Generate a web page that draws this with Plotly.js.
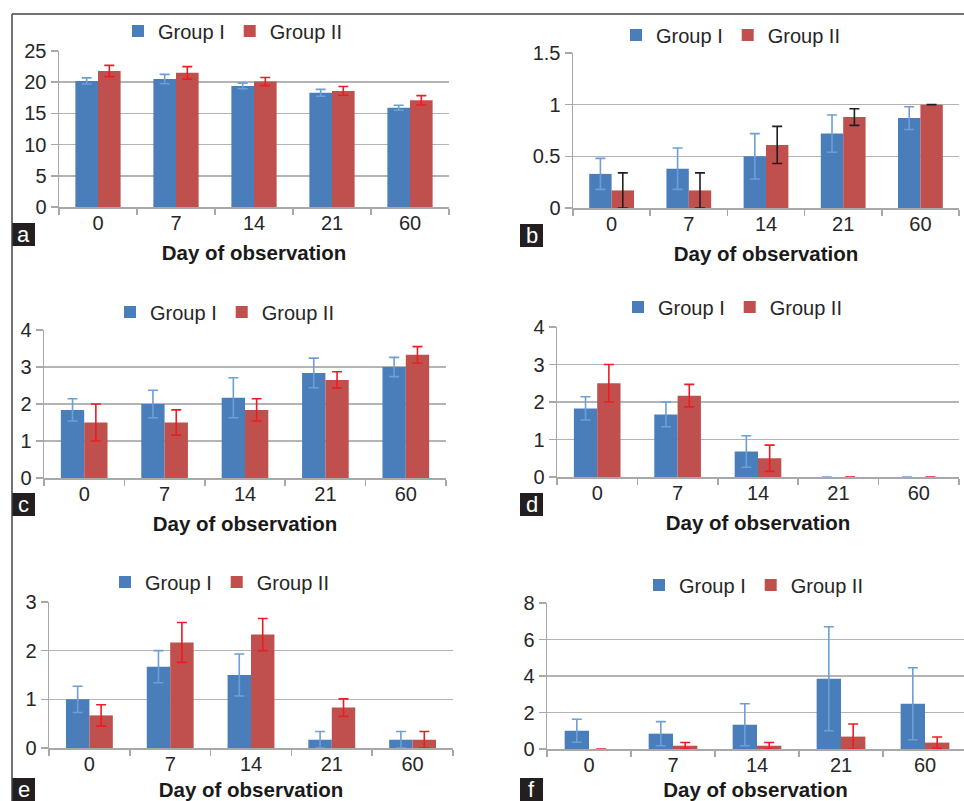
<!DOCTYPE html>
<html>
<head>
<meta charset="utf-8">
<script src="https://cdn.plot.ly/plotly-3.0.1.min.js"></script>
<style>html,body{margin:0;padding:0;background:#fff;}#chart{width:964px;height:801px;}</style>
</head>
<body>
<div id="chart"></div>
<script>
// ---- data ----
const days = ["0", "7", "14", "21", "60"];
const seriesNames = ["Group I", "Group II"];
const panelLabels = ["a", "b", "c", "d", "e", "f"];
const axisTitle = "Day of observation";

const aG1 = [20.2, 20.5, 19.4, 18.3, 15.9];
const aG1err = [0.5, 0.75, 0.45, 0.55, 0.4];
const aG2 = [21.8, 21.5, 20.1, 18.6, 17.1];
const aG2err = [0.9, 1.0, 0.65, 0.7, 0.75];

const bG1 = [0.33, 0.38, 0.5, 0.72, 0.87];
const bG1err = [0.15, 0.2, 0.22, 0.18, 0.11];
const bG2 = [0.17, 0.17, 0.61, 0.88, 1.0];
const bG2err = [0.17, 0.17, 0.18, 0.08, 0];

const cG1 = [1.84, 2.0, 2.17, 2.84, 3.0];
const cG1err = [0.3, 0.37, 0.54, 0.4, 0.26];
const cG2 = [1.5, 1.5, 1.84, 2.65, 3.33];
const cG2err = [0.5, 0.34, 0.3, 0.22, 0.22];

const dG1 = [1.83, 1.67, 0.68, 0, 0];
const dG1err = [0.31, 0.33, 0.42, 0, 0];
const dG2 = [2.5, 2.17, 0.5, 0, 0];
const dG2err = [0.5, 0.3, 0.35, 0, 0];

const eG1 = [1.0, 1.67, 1.5, 0.17, 0.17];
const eG1err = [0.27, 0.33, 0.43, 0.17, 0.17];
const eG2 = [0.67, 2.17, 2.33, 0.83, 0.17];
const eG2err = [0.22, 0.41, 0.33, 0.18, 0.17];

const fG1 = [1.0, 0.84, 1.33, 3.85, 2.48];
const fG1err = [0.63, 0.66, 1.15, 2.85, 1.97];
const fG2 = [0, 0.18, 0.18, 0.68, 0.35];
const fG2err = [0, 0.18, 0.18, 0.69, 0.31];

const yMax = [25, 1.5, 4, 4, 3, 8];
const yStep = [5, 0.5, 1, 1, 1, 2];

// ---- layout helpers ----
const W = 964, H = 801;
const px = x => x / W;
const py = y => 1 - y / H;

const BLUE = "#4a7ebb", RED = "#c0504d";
const BLUE_ERR = "#6d9fd6", RED_ERR = "#ed1c24", BLACK_ERR = "#231f20";
const GRID = "#b4b4b4", AXIS = "#a8a8a8", TXT = "#262626";
const FONT = "Liberation Sans, Arial, sans-serif";

// panel geometry (pixels)
const panels = [
  {g1: aG1, e1: aG1err, g2: aG2, e2: aG2err, x0: 59, x1: 449, yt: 51, yb: 207, legX: 132, legY: 31, box: [12, 223], err2: RED_ERR},
  {g1: bG1, e1: bG1err, g2: bG2, e2: bG2err, x0: 573, x1: 959, yt: 53, yb: 208, legX: 630, legY: 35, box: [520, 224], err2: BLACK_ERR},
  {g1: cG1, e1: cG1err, g2: cG2, e2: cG2err, x0: 44, x1: 446, yt: 330, yb: 478, legX: 124, legY: 312, box: [12, 493], err2: RED_ERR},
  {g1: dG1, e1: dG1err, g2: dG2, e2: dG2err, x0: 557, x1: 959, yt: 327, yb: 477, legX: 632, legY: 307, box: [520, 493], err2: RED_ERR},
  {g1: eG1, e1: eG1err, g2: eG2, e2: eG2err, x0: 49, x1: 453, yt: 602, yb: 748, legX: 119, legY: 582, box: [12, 778], err2: RED_ERR},
  {g1: fG1, e1: fG1err, g2: fG2, e2: fG2err, x0: 547, x1: 964, yt: 603, yb: 749, legX: 653, legY: 585, box: [520, 778], err2: RED_ERR, catW: 84}
];

const data = [];
const layout = {
  width: W, height: H,
  margin: {l: 0, r: 0, t: 0, b: 0},
  paper_bgcolor: "#ffffff",
  plot_bgcolor: "rgba(0,0,0,0)",
  barmode: "group",
  bargap: 0.42,
  bargroupgap: 0,
  font: {family: FONT, size: 20, color: TXT},
  shapes: [],
  annotations: []
};

panels.forEach((p, i) => {
  const n = i + 1;
  const xa = "x" + (n === 1 ? "" : n);
  const ya = "y" + (n === 1 ? "" : n);
  const lg = "legend" + (n === 1 ? "" : n);
  data.push({
    type: "bar", name: seriesNames[0], x: days, y: p.g1, xaxis: xa, yaxis: ya, legend: lg,
    marker: {color: BLUE},
    error_y: {type: "data", array: p.e1, visible: true, color: BLUE_ERR, thickness: 1.6, width: 5}
  });
  data.push({
    type: "bar", name: seriesNames[1], x: days, y: p.g2, xaxis: xa, yaxis: ya, legend: lg,
    marker: {color: RED},
    error_y: {type: "data", array: p.e2, visible: true, color: p.err2, thickness: 1.6, width: 5}
  });
  let xr = [-0.5, 4.5];
  if (p.catW) xr = [-0.5, -0.5 + (p.x1 - p.x0) / p.catW];
  layout["xaxis" + (n === 1 ? "" : n)] = {
    domain: [px(p.x0), px(p.x1)],
    anchor: ya,
    type: "category",
    range: xr,
    showline: true, linecolor: AXIS, linewidth: 1.5,
    ticks: "outside", tickson: "boundaries", ticklen: 6, tickcolor: AXIS, tickwidth: 1.5,
    ticklabelstandoff: -3,
    showgrid: false, zeroline: false,
    tickfont: {family: FONT, size: 20, color: TXT},
    title: {text: axisTitle, standoff: 13, font: {family: FONT, size: 20.5, color: "#1a1a1a", weight: 700}},
    fixedrange: true
  };
  layout["yaxis" + (n === 1 ? "" : n)] = {
    domain: [py(p.yb), py(p.yt)],
    anchor: xa,
    range: [0, yMax[i]],
    dtick: yStep[i], tick0: 0,
    showline: true, linecolor: AXIS, linewidth: 1.5,
    ticks: "outside", ticklen: 7, tickcolor: AXIS, tickwidth: 1.5,
    showgrid: true, gridcolor: GRID, gridwidth: 1.5,
    zeroline: false,
    tickfont: {family: FONT, size: 20, color: TXT},
    fixedrange: true
  };
  layout[lg] = {
    orientation: "h",
    x: px(p.legX - 14), xanchor: "left",
    y: py(p.legY), yanchor: "middle",
    bgcolor: "rgba(0,0,0,0)",
    font: {family: FONT, size: 20, color: TXT},
    itemwidth: 30,
    itemclick: false, itemdoubleclick: false
  };
  // panel label box
  const bx = p.box[0], by = p.box[1];
  layout.shapes.push({
    type: "rect", xref: "paper", yref: "paper",
    x0: px(bx), x1: px(bx + 23), y0: py(by), y1: py(by + 23),
    fillcolor: "#231f20", line: {width: 0}
  });
  layout.annotations.push({
    xref: "paper", yref: "paper", x: px(bx + 11.5), y: py(by + 11), xanchor: "center", yanchor: "middle",
    text: panelLabels[i], showarrow: false,
    font: {family: FONT, size: 22, color: "#ffffff"}
  });
});

// outer frame (top and left edges)
layout.shapes.push({type: "line", xref: "paper", yref: "paper", x0: px(12), x1: 1, y0: py(14), y1: py(14), line: {color: "#444444", width: 1.5}});
layout.shapes.push({type: "line", xref: "paper", yref: "paper", x0: px(12), x1: px(12), y0: py(14), y1: 0, line: {color: "#444444", width: 1.5}});

Plotly.newPlot("chart", data, layout, {displayModeBar: false, staticPlot: true});
</script>
</body>
</html>
